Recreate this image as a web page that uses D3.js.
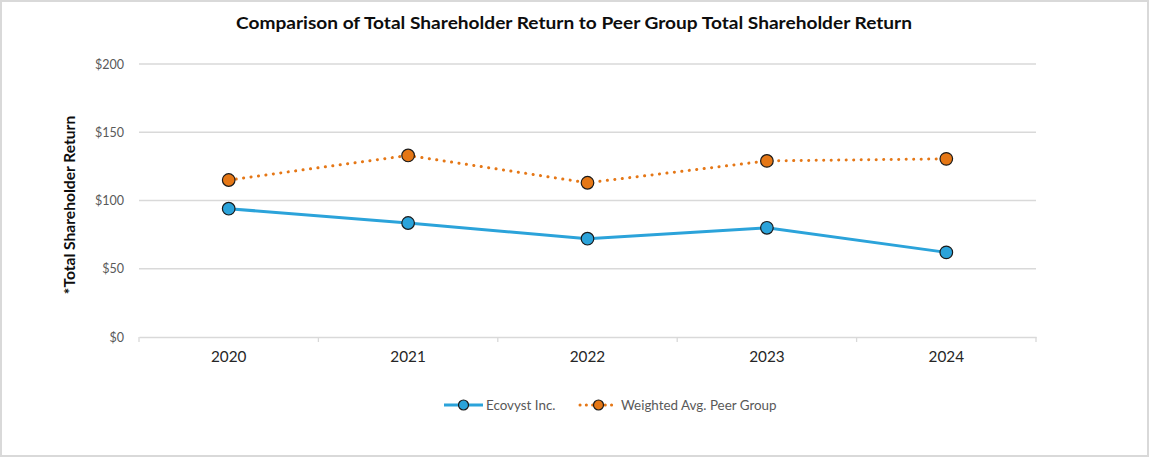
<!DOCTYPE html>
<html>
<head>
<meta charset="utf-8">
<script src="https://cdn.jsdelivr.net/npm/d3@7"></script>
<style>
  html, body { margin: 0; padding: 0; background: #fff; }
  svg { display: block; }
  text { font-family: Lato, "Noto Sans", sans-serif; }
</style>
</head>
<body>
<svg id="chart" width="1156" height="466"></svg>
<script>
const years = ["2020", "2021", "2022", "2023", "2024"];
const ecovyst = [94, 83.5, 72, 80, 62];
const peer = [115, 133, 113, 129, 130.5];
const yTicks = [0, 50, 100, 150, 200];
const seriesNames = ["Ecovyst Inc.", "Weighted Avg. Peer Group"];
const titleText = "Comparison of Total Shareholder Return to Peer Group Total Shareholder Return";
const yTitle = "*Total Shareholder Return";

const colors = { eco: "#2ba3da", peer: "#e57716" };

const svg = d3.select("#chart");

// outer border
svg.append("rect")
  .attr("x", 1).attr("y", 1).attr("width", 1147).attr("height", 455)
  .attr("fill", "#fff").attr("stroke", "#d9d9d9").attr("stroke-width", 2);

const margin = { left: 139, right: 1036, top: 64, bottom: 337 };

const x = d3.scaleBand().domain(years).range([margin.left, margin.right]).padding(0);
const y = d3.scaleLinear().domain([0, 200]).range([margin.bottom, margin.top]);

// title
svg.append("text")
  .attr("x", 574).attr("y", 29)
  .attr("text-anchor", "middle")
  .attr("font-size", 17).attr("font-weight", "bold").attr("fill", "#0d0d0d")
  .attr("textLength", 676).attr("lengthAdjust", "spacingAndGlyphs")
  .text(titleText);

// gridlines
const grid = svg.append("g");
grid.selectAll("line").data(yTicks.filter(d => d > 0)).enter().append("line")
  .attr("x1", margin.left).attr("x2", margin.right)
  .attr("y1", d => y(d)).attr("y2", d => y(d))
  .attr("stroke", "#d9d9d9").attr("stroke-width", 1.3);

// y axis labels
const yAxis = d3.axisLeft(y).tickValues(yTicks).tickSize(0).tickPadding(15)
  .tickFormat(d => "$" + d);
const yG = svg.append("g").attr("transform", `translate(${margin.left},0)`).call(yAxis);
yG.select(".domain").remove();
yG.selectAll("text").attr("font-size", 12.5).attr("fill", "#595959")
  .attr("font-family", "Lato, sans-serif");

// x axis
const xAxis = d3.axisBottom(x).tickSize(0).tickPadding(14);
const xG = svg.append("g").attr("transform", `translate(0,${margin.bottom})`).call(xAxis);
xG.select(".domain").attr("stroke", "#d9d9d9").attr("stroke-width", 1.3);
xG.selectAll("text").attr("font-size", 15.3).attr("fill", "#262626")
  .attr("font-family", "Lato, sans-serif");
// boundary tick marks
const bounds = years.map(d => x(d)).concat([x(years[years.length - 1]) + x.bandwidth()]);
xG.selectAll(".btick").data(bounds).enter().append("line")
  .attr("class", "btick")
  .attr("x1", d => d).attr("x2", d => d).attr("y1", 0).attr("y2", 5)
  .attr("stroke", "#d9d9d9").attr("stroke-width", 1.3);

// y axis title
svg.append("text")
  .attr("transform", `translate(75,205) rotate(-90)`)
  .attr("text-anchor", "middle")
  .attr("font-size", 15.6).attr("font-weight", "bold").attr("fill", "#0d0d0d")
  .text(yTitle);

const cx = d => x(d) + x.bandwidth() / 2;
const line = d3.line().x(d => cx(d[0])).y(d => y(d[1]));

// peer line
svg.append("path")
  .datum(years.map((yr, i) => [yr, peer[i]]))
  .attr("d", line).attr("fill", "none")
  .attr("stroke", colors.peer).attr("stroke-width", 3)
  .attr("stroke-dasharray", "0.1 7.4").attr("stroke-linecap", "round");

// eco line
svg.append("path")
  .datum(years.map((yr, i) => [yr, ecovyst[i]]))
  .attr("d", line).attr("fill", "none")
  .attr("stroke", colors.eco).attr("stroke-width", 3);

// markers
svg.append("g").selectAll("circle").data(years.map((yr, i) => [yr, peer[i]])).enter()
  .append("circle").attr("cx", d => cx(d[0])).attr("cy", d => y(d[1])).attr("r", 6.3)
  .attr("fill", colors.peer).attr("stroke", "#1a1a1a").attr("stroke-width", 1.2);
svg.append("g").selectAll("circle").data(years.map((yr, i) => [yr, ecovyst[i]])).enter()
  .append("circle").attr("cx", d => cx(d[0])).attr("cy", d => y(d[1])).attr("r", 6.3)
  .attr("fill", colors.eco).attr("stroke", "#1a1a1a").attr("stroke-width", 1.2);

// legend
const lg = svg.append("g");
const ly = 405;
// series 1
lg.append("line").attr("x1", 444).attr("x2", 483).attr("y1", ly).attr("y2", ly)
  .attr("stroke", colors.eco).attr("stroke-width", 3);
lg.append("circle").attr("cx", 463.5).attr("cy", ly).attr("r", 5)
  .attr("fill", colors.eco).attr("stroke", "#1a1a1a").attr("stroke-width", 1.2);
lg.append("text").attr("x", 486).attr("y", ly + 4.8)
  .attr("font-size", 13.4).attr("fill", "#595959").text(seriesNames[0]);
// series 2
lg.append("line").attr("x1", 580).attr("x2", 617).attr("y1", ly).attr("y2", ly)
  .attr("stroke", colors.peer).attr("stroke-width", 3)
  .attr("stroke-dasharray", "0.1 6.2").attr("stroke-linecap", "round");
lg.append("circle").attr("cx", 598.5).attr("cy", ly).attr("r", 5)
  .attr("fill", colors.peer).attr("stroke", "#1a1a1a").attr("stroke-width", 1.2);
lg.append("text").attr("x", 621).attr("y", ly + 4.8)
  .attr("font-size", 13.4).attr("fill", "#595959").text(seriesNames[1]);
</script>
</body>
</html>
